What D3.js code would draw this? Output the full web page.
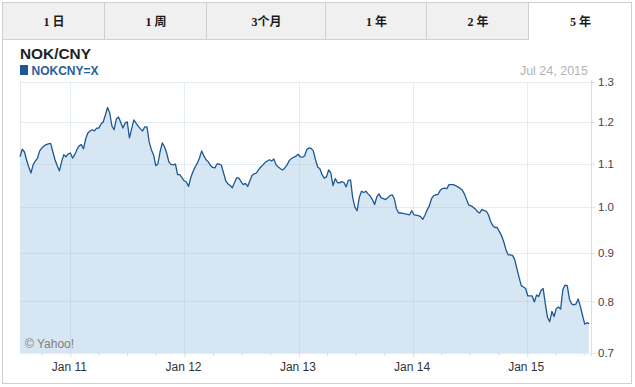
<!DOCTYPE html>
<html>
<head>
<meta charset="utf-8">
<script src="https://cdn.jsdelivr.net/npm/d3@7"></script>
<style>
  body { margin: 0; background: #fff; }
  svg  { display: block; }
</style>
</head>
<body>
<script>

var width  = 635;
var height = 387;

// tabs across the top, the last one is selected
var tabLabels = ['1 日', '1 周', '3个月', '1 年', '2 年', '5 年'];
var activeTab = 5;

var title      = 'NOK/CNY';
var seriesName = 'NOKCNY=X';
var lastLabel  = 'Jul 24, 2015';
var credit     = '\u00a9 Yahoo!';

var startDate = new Date(2010, 6, 24);
var endDate   = new Date(2015, 6, 24);

// weekly closes from Jul 24, 2010
var rates = [
  1.116, 1.134, 1.128, 1.109, 1.092, 1.078, 1.097, 1.106, 1.113, 1.130,
  1.137, 1.142, 1.145, 1.147, 1.148, 1.128, 1.109, 1.095, 1.083, 1.104,
  1.121, 1.116, 1.123, 1.125, 1.113, 1.121, 1.133, 1.142, 1.145, 1.135,
  1.159, 1.173, 1.178, 1.181, 1.178, 1.185, 1.185, 1.195, 1.200, 1.217,
  1.236, 1.222, 1.190, 1.181, 1.207, 1.212, 1.199, 1.185, 1.197, 1.200,
  1.161, 1.183, 1.205, 1.197, 1.190, 1.183, 1.178, 1.188, 1.188, 1.152,
  1.133, 1.121, 1.095, 1.099, 1.128, 1.149, 1.140, 1.125, 1.104, 1.098,
  1.097, 1.099, 1.074, 1.074, 1.067, 1.060, 1.057, 1.047, 1.067, 1.081,
  1.092, 1.101, 1.113, 1.130, 1.118, 1.109, 1.104, 1.096, 1.091, 1.090,
  1.099, 1.099, 1.096, 1.078, 1.060, 1.053, 1.049, 1.044, 1.056, 1.067,
  1.066, 1.058, 1.051, 1.054, 1.047, 1.060, 1.072, 1.076, 1.078, 1.086,
  1.092, 1.097, 1.103, 1.106, 1.109, 1.106, 1.111, 1.097, 1.092, 1.088,
  1.085, 1.090, 1.097, 1.107, 1.112, 1.115, 1.117, 1.122, 1.116, 1.115,
  1.118, 1.133, 1.137, 1.136, 1.130, 1.109, 1.092, 1.088, 1.074, 1.066,
  1.069, 1.085, 1.078, 1.049, 1.065, 1.056, 1.055, 1.058, 1.056, 1.046,
  1.061, 1.062, 1.021, 1.000, 0.992, 1.022, 1.036, 1.033, 1.036, 1.030,
  1.025, 1.017, 1.006, 1.023, 1.030, 1.021, 1.019, 1.017, 1.021, 1.026,
  1.028, 1.019, 0.996, 0.987, 0.987, 0.986, 0.985, 0.984, 0.983, 0.992,
  0.983, 0.982, 0.981, 0.979, 0.973, 0.982, 0.994, 1.003, 1.019, 1.026,
  1.028, 1.029, 1.038, 1.042, 1.043, 1.042, 1.051, 1.051, 1.051, 1.049,
  1.046, 1.043, 1.039, 1.030, 1.017, 1.005, 1.003, 1.000, 0.996, 0.990,
  0.987, 0.995, 0.992, 0.991, 0.983, 0.968, 0.959, 0.955, 0.955, 0.946,
  0.937, 0.924, 0.907, 0.896, 0.896, 0.895, 0.886, 0.867, 0.849, 0.832,
  0.829, 0.826, 0.811, 0.811, 0.811, 0.799, 0.813, 0.810, 0.822, 0.826,
  0.795, 0.768, 0.760, 0.780, 0.770, 0.786, 0.789, 0.785, 0.824, 0.833,
  0.832, 0.805, 0.795, 0.793, 0.795, 0.805, 0.790, 0.772, 0.755, 0.758, 0.756
];

var yTicks = [0.7, 0.8, 0.9, 1.0, 1.1, 1.2, 1.3];

// layout
var tabEdges = [2, 104, 206, 325, 426, 528, 631];
var tabBottom = 39;
var plot = { left: 20, right: 591, top: 82, bottom: 353 };

var lineColor = '#1d5894';
var fillColor = '#d6e6f2';

var data = rates.map(function(v, i){
  return { date: d3.timeDay.offset(startDate, 7 * i), value: v };
});

var svg = d3.select('body')
            .append('svg')
            .attr('width', width)
            .attr('height', height);

// outer frame
svg.append('rect')
   .attr('x', 2.5).attr('y', 2.5)
   .attr('width', 629).attr('height', 381)
   .attr('fill', '#fff')
   .attr('stroke', '#cfcfcf');

// tabs
var tabs = svg.selectAll('g.tab')
              .data(tabLabels)
              .enter()
              .append('g')
              .attr('class', 'tab');

tabs.append('rect')
    .attr('x', function(d, i){ return tabEdges[i] + 0.5; })
    .attr('y', 2.5)
    .attr('width', function(d, i){ return tabEdges[i + 1] - tabEdges[i]; })
    .attr('height', tabBottom - 2)
    .attr('fill', function(d, i){ return i === activeTab ? '#fff' : '#f0f0f0'; })
    .attr('stroke', 'none');

tabs.append('text')
    .attr('x', function(d, i){ return (tabEdges[i] + tabEdges[i + 1]) / 2 + 1; })
    .attr('y', 25.5)
    .attr('text-anchor', 'middle')
    .attr('font-family', '"Liberation Serif", "Noto Sans CJK SC", sans-serif')
    .attr('font-weight', 'bold')
    .attr('font-size', '12px')
    .attr('fill', '#1a1a1a')
    .text(function(d){ return d; });

// tab dividers and bottom edge of the unselected tabs
svg.selectAll('line.tabdiv')
   .data(tabEdges.slice(1, -1))
   .enter()
   .append('line')
   .attr('class', 'tabdiv')
   .attr('x1', function(d){ return d + 0.5; })
   .attr('x2', function(d){ return d + 0.5; })
   .attr('y1', 2).attr('y2', tabBottom + 0.5)
   .attr('stroke', '#cfcfcf');

svg.append('line')
   .attr('x1', 2).attr('x2', tabEdges[activeTab] + 0.5)
   .attr('y1', tabBottom + 0.5).attr('y2', tabBottom + 0.5)
   .attr('stroke', '#cfcfcf');

svg.append('rect')
   .attr('x', 2.5).attr('y', 2.5)
   .attr('width', 629).attr('height', 381)
   .attr('fill', 'none')
   .attr('stroke', '#cfcfcf');

// header texts
svg.append('text')
   .attr('x', 20).attr('y', 58.5)
   .attr('font-family', '"Liberation Sans", Arial, sans-serif')
   .attr('font-weight', 'bold')
   .attr('font-size', '14px')
   .attr('fill', '#222')
   .attr('textLength', 71)
   .attr('lengthAdjust', 'spacingAndGlyphs')
   .text(title);

svg.append('rect')
   .attr('x', 20).attr('y', 65)
   .attr('width', 8).attr('height', 10)
   .attr('fill', lineColor);

svg.append('text')
   .attr('x', 31.5).attr('y', 74.5)
   .attr('font-family', '"Liberation Sans", Arial, sans-serif')
   .attr('font-weight', 'bold')
   .attr('font-size', '12px')
   .attr('fill', '#2a5e98')
   .text(seriesName);

svg.append('text')
   .attr('x', 588).attr('y', 75)
   .attr('text-anchor', 'end')
   .attr('font-family', '"Liberation Sans", Arial, sans-serif')
   .attr('font-size', '12.5px')
   .attr('fill', '#b4b4b4')
   .text(lastLabel);

// scales
var x = d3.scaleTime()
          .domain([startDate, endDate])
          .range([plot.left, plot.right]);

var y = d3.scalePow()
          .exponent(0.5)
          .domain([0.7, 1.3])
          .range([plot.bottom, plot.top]);

var quarters = x.ticks(d3.timeMonth.every(3));
var years    = quarters.filter(function(d){ return d.getMonth() === 0; });

// plot borders
svg.append('line')
   .attr('x1', plot.left + 0.5).attr('x2', plot.left + 0.5)
   .attr('y1', plot.top).attr('y2', plot.bottom)
   .attr('stroke', '#e6e6e6');

// area and line
var area = d3.area()
             .x(function(d){ return x(d.date); })
             .y0(plot.bottom)
             .y1(function(d){ return y(d.value); });

var line = d3.line()
             .x(function(d){ return x(d.date); })
             .y(function(d){ return y(d.value); });

svg.append('path')
   .datum(data)
   .attr('d', area)
   .attr('fill', fillColor);

// grid on top of the fill, semi transparent
svg.selectAll('line.hgrid')
   .data(yTicks)
   .enter()
   .append('line')
   .attr('class', 'hgrid')
   .attr('x1', plot.left).attr('x2', plot.right)
   .attr('y1', function(d){ return Math.round(y(d)) + 0.5; })
   .attr('y2', function(d){ return Math.round(y(d)) + 0.5; })
   .attr('stroke', 'rgba(170,195,220,0.3)');

svg.selectAll('line.vgrid')
   .data(years)
   .enter()
   .append('line')
   .attr('class', 'vgrid')
   .attr('x1', function(d){ return Math.round(x(d)) + 0.5; })
   .attr('x2', function(d){ return Math.round(x(d)) + 0.5; })
   .attr('y1', plot.top).attr('y2', plot.bottom)
   .attr('stroke', 'rgba(170,195,220,0.3)');

svg.append('path')
   .datum(data)
   .attr('d', line)
   .attr('fill', 'none')
   .attr('stroke', lineColor)
   .attr('stroke-width', 1.3)
   .attr('stroke-linejoin', 'round');

// x axis
var xAxis = svg.append('g')
               .attr('transform', 'translate(0,' + plot.bottom + ')')
               .call(d3.axisBottom(x)
                       .tickValues(quarters)
                       .tickSizeInner(3)
                       .tickSizeOuter(0)
                       .tickFormat(function(d){
                          return d.getMonth() === 0 ? d3.timeFormat('%b %y')(d) : '';
                       }));

xAxis.select('.domain').remove();
xAxis.selectAll('.tick line')
     .attr('stroke', '#dedede')
     .attr('y2', function(d){ return d.getMonth() === 0 ? 4 : 3; });
xAxis.selectAll('.tick text')
     .attr('y', 18).attr('dy', 0).attr('dx', -1.5)
     .attr('font-family', '"Liberation Sans", Arial, sans-serif')
     .attr('font-size', '12px')
     .attr('fill', '#333');

// y axis on the right
var yAxis = svg.append('g')
               .attr('transform', 'translate(' + plot.right + ',0)')
               .call(d3.axisRight(y)
                       .tickValues(yTicks)
                       .tickSizeInner(4)
                       .tickSizeOuter(0)
                       .tickPadding(3)
                       .tickFormat(d3.format('.1f')));

yAxis.select('.domain')
     .attr('stroke', '#dedede')
     .attr('d', 'M0.5,' + (plot.top - 2) + 'V' + (plot.bottom + 3));
yAxis.selectAll('.tick line').attr('stroke', '#dedede');
yAxis.selectAll('.tick text')
     .attr('font-family', '"Liberation Sans", Arial, sans-serif')
     .attr('font-size', '11.5px')
     .attr('fill', '#444');

// credit
svg.append('text')
   .attr('x', 25).attr('y', 347.5)
   .attr('font-family', '"Liberation Sans", Arial, sans-serif')
   .attr('font-size', '12px')
   .attr('fill', '#808080')
   .text(credit);

</script>
</body>
</html>
